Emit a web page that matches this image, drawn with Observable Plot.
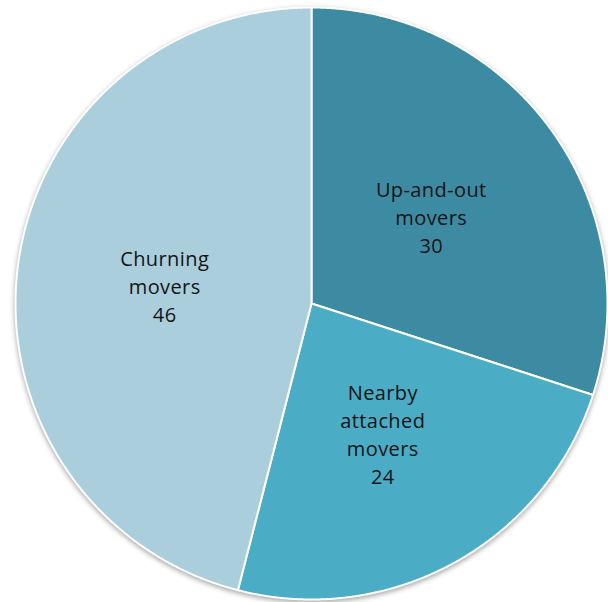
<!DOCTYPE html>
<html><head><meta charset="utf-8">
<script src="https://cdn.jsdelivr.net/npm/d3@7"></script>
<script src="https://cdn.jsdelivr.net/npm/@observablehq/plot@0.6"></script>
<style>html,body{margin:0;padding:0;background:#fff;overflow:hidden}</style>
</head><body><div id="chart"></div>
<script>
const categories = ["Up-and-out movers", "Nearby attached movers", "Churning movers"];
const values = [30, 24, 46];
const labels = ["Up-and-out\nmovers\n30", "Nearby\nattached\nmovers\n24", "Churning\nmovers\n46"];
const colors = ["#3D8BA2", "#4BACC6", "#AACEDC"];

const arcs = d3.pie().sort(null).value(d => d.value)(
  categories.map((c, i) => ({category: c, value: values[i], label: labels[i]}))
);
const outline = [];
for (const a of arcs) {
  const n = Math.max(2, Math.ceil((a.endAngle - a.startAngle) / 0.004));
  outline.push({category: a.data.category, x: 0, y: 0});
  for (let k = 0; k <= n; k++) {
    const t = a.startAngle + (a.endAngle - a.startAngle) * k / n;
    outline.push({category: a.data.category, x: Math.sin(t), y: Math.cos(t)});
  }
  outline.push({category: a.data.category, x: 0, y: 0});
}
const centroids = arcs.map(a => {
  const m = (a.startAngle + a.endAngle) / 2;
  return {label: a.data.label, x: 0.5 * Math.sin(m), y: 0.5 * Math.cos(m)};
});

const chart = Plot.plot({
  width: 608, height: 602, margin: 0,
  x: {domain: [-1, 1], range: [15, 607], axis: null},
  y: {domain: [-1, 1], range: [599, 7], axis: null},
  color: {domain: categories, range: colors},
  style: {background: "#fff", overflow: "visible"},
  marks: [
    Plot.line(outline, {x: "x", y: "y", z: "category", fill: "category", stroke: "white",
      strokeWidth: 2, curve: "linear", strokeLinejoin: "round"}),
    Plot.text(centroids, {x: "x", y: "y", text: "label", fill: "#141414", fontSize: 20,
      lineHeight: 1.4, fontFamily: "Open Sans", lineAnchor: "middle"})
  ]
});
const g = chart.querySelector('g[aria-label="line"]');
if (g) g.style.filter = "drop-shadow(0px 2px 2.5px rgba(0,0,0,0.35))";
chart.querySelectorAll('g[aria-label="text"] text').forEach(t => t.style.letterSpacing = "0.4px");
document.getElementById("chart").appendChild(chart);
</script>
</body></html>
